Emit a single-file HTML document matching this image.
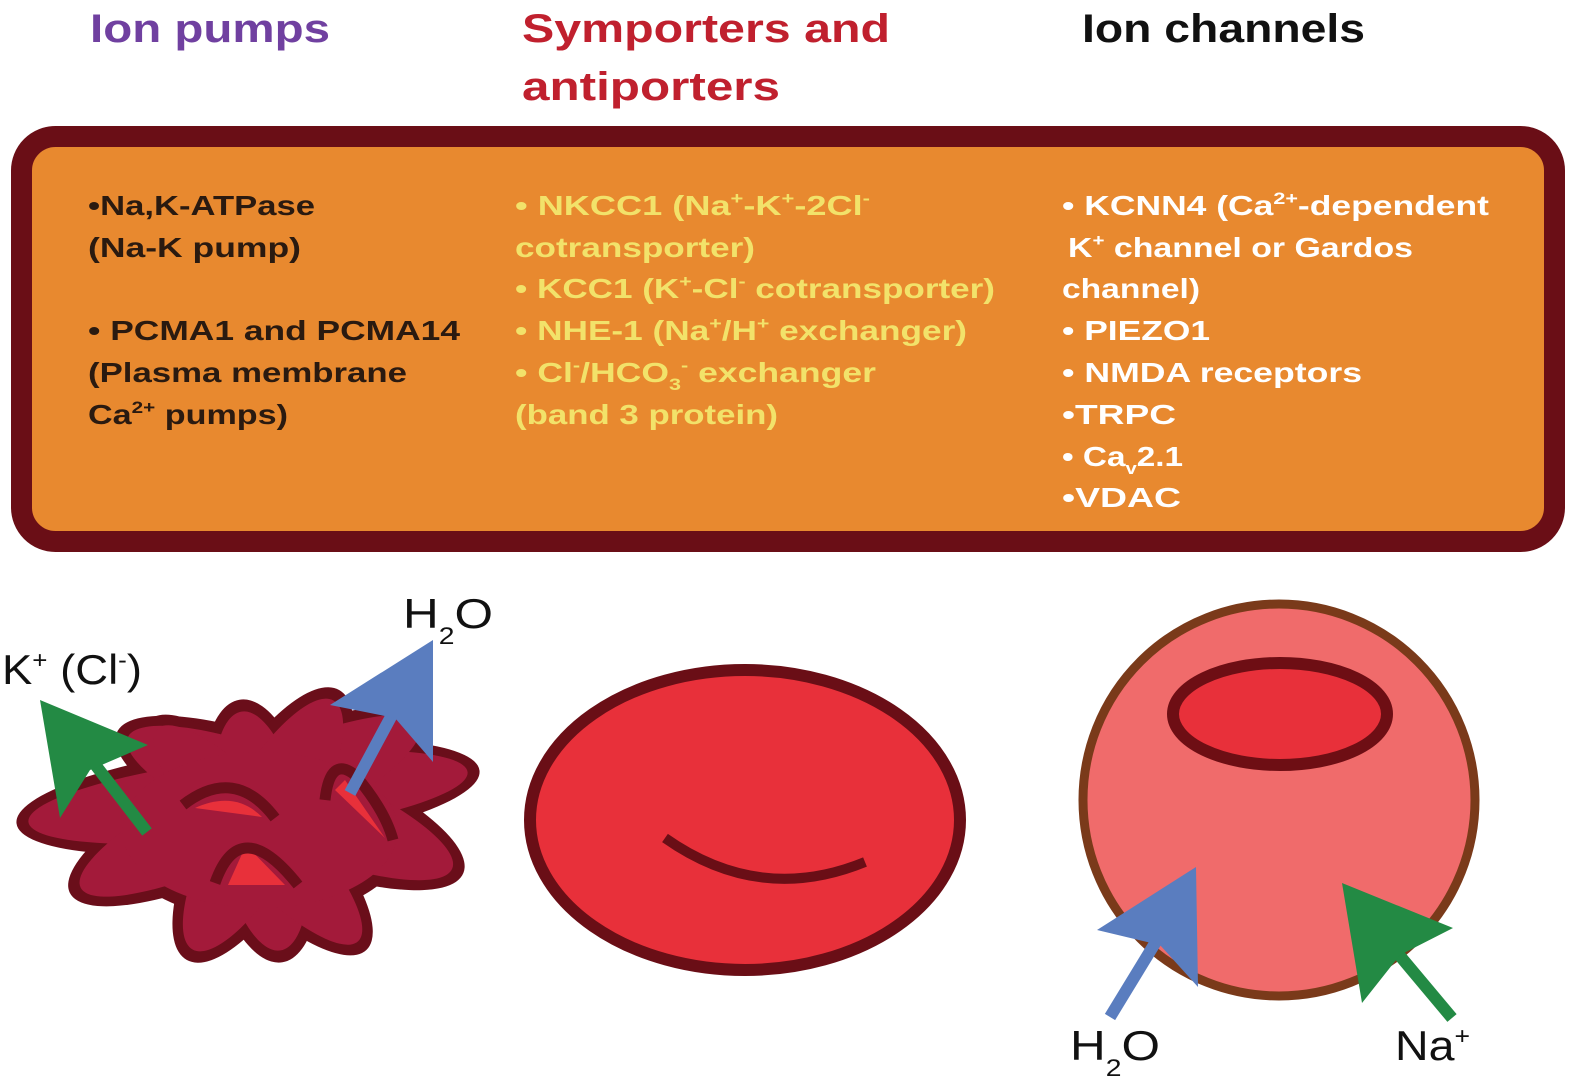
<!DOCTYPE html>
<html><head><meta charset="utf-8"><style>
html,body{margin:0;padding:0;background:#fff;}
svg{display:block;}
text{font-family:"Liberation Sans",sans-serif;font-weight:bold;}
</style></head><body>
<svg width="1570" height="1092" viewBox="0 0 1570 1092" xmlns="http://www.w3.org/2000/svg">
<rect width="1570" height="1092" fill="#fff"/>
<text x="90" y="42" font-size="40" fill="#7040a0" textLength="240" lengthAdjust="spacingAndGlyphs">Ion pumps</text>
<text x="522" y="42" font-size="40" fill="#c0202e" textLength="368" lengthAdjust="spacingAndGlyphs">Symporters and</text>
<text x="522" y="100" font-size="40" fill="#c0202e" textLength="258" lengthAdjust="spacingAndGlyphs">antiporters</text>
<text x="1082" y="42" font-size="40" fill="#111" textLength="283" lengthAdjust="spacingAndGlyphs">Ion channels</text>
<rect x="21.5" y="136.5" width="1533" height="405" rx="34" fill="#e8892f" stroke="#6a0e16" stroke-width="21"/>
<g font-size="28" fill="#2a1a10">
<text x="88" y="215" textLength="227" lengthAdjust="spacingAndGlyphs">•Na,K-ATPase</text>
<text x="88" y="257" textLength="213" lengthAdjust="spacingAndGlyphs">(Na-K pump)</text>
<text x="88" y="340" textLength="372" lengthAdjust="spacingAndGlyphs">• PCMA1 and PCMA14</text>
<text x="88" y="382" textLength="319" lengthAdjust="spacingAndGlyphs">(Plasma membrane</text>
<text x="88" y="424" textLength="200" lengthAdjust="spacingAndGlyphs">Ca<tspan font-size="17" dy="-11">2+</tspan><tspan dy="11"> pumps)</tspan></text>
</g>
<g font-size="28" fill="#f2e26a">
<text x="515" y="215" textLength="355" lengthAdjust="spacingAndGlyphs">• NKCC1 (Na<tspan font-size="17" dy="-11">+</tspan><tspan dy="11">-K</tspan><tspan font-size="17" dy="-11">+</tspan><tspan dy="11">-2Cl</tspan><tspan font-size="17" dy="-11">-</tspan></text>
<text x="515" y="257" textLength="240" lengthAdjust="spacingAndGlyphs">cotransporter)</text>
<text x="515" y="298" textLength="480" lengthAdjust="spacingAndGlyphs">• KCC1 (K<tspan font-size="17" dy="-11">+</tspan><tspan dy="11">-Cl</tspan><tspan font-size="17" dy="-11">-</tspan><tspan dy="11"> cotransporter)</tspan></text>
<text x="515" y="340" textLength="452" lengthAdjust="spacingAndGlyphs">• NHE-1 (Na<tspan font-size="17" dy="-11">+</tspan><tspan dy="11">/H</tspan><tspan font-size="17" dy="-11">+</tspan><tspan dy="11"> exchanger)</tspan></text>
<text x="515" y="382" textLength="361" lengthAdjust="spacingAndGlyphs">• Cl<tspan font-size="17" dy="-11">-</tspan><tspan dy="11">/HCO</tspan><tspan font-size="17" dy="8">3</tspan><tspan font-size="17" dy="-19">-</tspan><tspan dy="11">  exchanger</tspan></text>
<text x="515" y="424" textLength="263" lengthAdjust="spacingAndGlyphs">(band 3 protein)</text>
</g>
<g font-size="28" fill="#fff">
<text x="1062" y="215" textLength="427" lengthAdjust="spacingAndGlyphs">• KCNN4 (Ca<tspan font-size="17" dy="-11">2+</tspan><tspan dy="11">-dependent</tspan></text>
<text x="1068" y="257" textLength="345" lengthAdjust="spacingAndGlyphs">K<tspan font-size="17" dy="-11">+</tspan><tspan dy="11"> channel or Gardos</tspan></text>
<text x="1062" y="298" textLength="138" lengthAdjust="spacingAndGlyphs">channel)</text>
<text x="1062" y="340" textLength="148" lengthAdjust="spacingAndGlyphs">• PIEZO1</text>
<text x="1062" y="382" textLength="300" lengthAdjust="spacingAndGlyphs">• NMDA receptors</text>
<text x="1062" y="424" textLength="114" lengthAdjust="spacingAndGlyphs">•TRPC</text>
<text x="1062" y="466" textLength="121" lengthAdjust="spacingAndGlyphs">• Ca<tspan font-size="17" dy="8">v</tspan><tspan dy="-8">2.1</tspan></text>
<text x="1062" y="507" textLength="119" lengthAdjust="spacingAndGlyphs">•VDAC</text>
</g>

<!-- left blob -->
<g fill="#6a0e1a">
<ellipse cx="248" cy="797" rx="233" ry="52" transform="rotate(-6.5 248 797)"/>
<ellipse cx="250" cy="806" rx="200" ry="56" transform="rotate(-25.7 250 806)"/>
<ellipse cx="290" cy="803" rx="187" ry="56" transform="rotate(22 290 803)"/>
<ellipse cx="261" cy="831" rx="133" ry="56" transform="rotate(80.7 261 831)"/>
<ellipse cx="263" cy="825" rx="155" ry="56" transform="rotate(-60.5 263 825)"/>
<ellipse cx="258" cy="835" rx="158" ry="52" transform="rotate(46.7 258 835)"/>
<ellipse cx="260" cy="830" rx="150" ry="90"/>
</g>
<g fill="#a31a3a">
<ellipse cx="248" cy="797" rx="221" ry="40" transform="rotate(-6.5 248 797)"/>
<ellipse cx="250" cy="806" rx="188" ry="44" transform="rotate(-25.7 250 806)"/>
<ellipse cx="290" cy="803" rx="175" ry="44" transform="rotate(22 290 803)"/>
<ellipse cx="261" cy="831" rx="121" ry="44" transform="rotate(80.7 261 831)"/>
<ellipse cx="263" cy="825" rx="143" ry="44" transform="rotate(-60.5 263 825)"/>
<ellipse cx="258" cy="835" rx="146" ry="40" transform="rotate(46.7 258 835)"/>
<ellipse cx="260" cy="830" rx="138" ry="78"/>
</g>
<path d="M195,808 Q235,790 262,817 Z" fill="#e8303a"/>
<path d="M183,805 Q235,765 275,818" fill="none" stroke="#6a0e1a" stroke-width="11"/>
<path d="M228,885 L246,845 L285,885 Z" fill="#e8303a"/>
<path d="M215,883 Q240,812 298,885" fill="none" stroke="#6a0e1a" stroke-width="11"/>
<path d="M335,790 L345,780 L385,838 Z" fill="#e8303a"/>
<path d="M325,800 Q330,755 355,775 Q385,810 393,840" fill="none" stroke="#6a0e1a" stroke-width="11"/>
<line x1="147" y1="832" x2="80" y2="745" stroke="#238a44" stroke-width="12"/>
<polygon points="40,700 148,745 90,770 60,818" fill="#238a44"/>
<line x1="350" y1="793" x2="400" y2="700" stroke="#5a7dbf" stroke-width="12"/>
<polygon points="433,640 433,762 395,718 330,705" fill="#5a7dbf"/>
<text x="2" y="684" font-size="42" fill="#111" style="font-weight:normal" textLength="140" lengthAdjust="spacingAndGlyphs">K<tspan font-size="24" dy="-16">+</tspan><tspan dy="16"> (Cl</tspan><tspan font-size="24" dy="-16">-</tspan><tspan dy="16">)</tspan></text>
<text x="403" y="628" font-size="42" fill="#111" style="font-weight:normal" textLength="90" lengthAdjust="spacingAndGlyphs">H<tspan font-size="24" dy="16">2</tspan><tspan dy="-16">O</tspan></text>

<ellipse cx="745" cy="820" rx="215" ry="150" fill="#e8303a" stroke="#6a0e16" stroke-width="12"/>
<path d="M665,838 Q760,905 865,862" fill="none" stroke="#6a0e16" stroke-width="10"/>

<circle cx="1279" cy="800" r="196" fill="#f06b6b" stroke="#7a3a1a" stroke-width="9"/>
<ellipse cx="1280" cy="714" rx="107" ry="51" fill="#e8303a" stroke="#6e0e14" stroke-width="12"/>
<line x1="1110" y1="1017" x2="1160" y2="935" stroke="#5a7dbf" stroke-width="12"/>
<polygon points="1196,867 1198,987 1160,945 1097,930" fill="#5a7dbf"/>
<line x1="1452" y1="1018" x2="1395" y2="950" stroke="#238a44" stroke-width="12"/>
<polygon points="1342,883 1453,928 1400,955 1362,1003" fill="#238a44"/>
<text x="1070" y="1060" font-size="42" fill="#111" style="font-weight:normal" textLength="90" lengthAdjust="spacingAndGlyphs">H<tspan font-size="24" dy="16">2</tspan><tspan dy="-16">O</tspan></text>
<text x="1395" y="1060" font-size="42" fill="#111" style="font-weight:normal" textLength="75" lengthAdjust="spacingAndGlyphs">Na<tspan font-size="24" dy="-16">+</tspan></text>
</svg>
</body></html>
